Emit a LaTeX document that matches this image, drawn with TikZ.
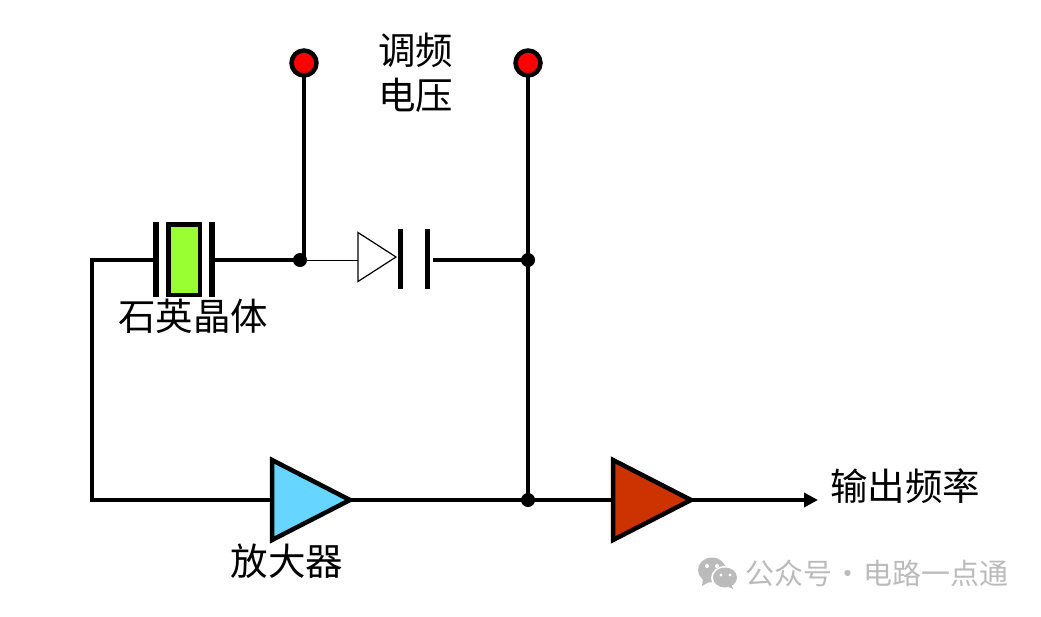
\documentclass[tikz,border=0pt]{standalone}
\usepackage{xcolor}
\usepackage{fontspec}
\newfontfamily\cjk{Noto Sans CJK SC}
\usetikzlibrary{shapes.geometric,arrows.meta,positioning}
\definecolor{xtalgreen}{HTML}{99FF33}
\definecolor{ampblue}{HTML}{66D5FF}
\definecolor{ampred}{HTML}{CC3300}
\definecolor{markgray}{HTML}{BBBBBB}
\tikzset{
    wire/.style={line width=4.5pt},
    dotnode/.style={circle,fill=black,minimum size=14pt,inner sep=0pt,outer sep=0pt},
    terminal/.style={circle,draw=black,line width=4.5pt,fill=red,minimum size=25pt,inner sep=0pt,outer sep=0pt},
    plate/.style={rectangle,fill=black,minimum width=#1,inner sep=0pt,outer sep=0pt},
    ampnode/.style={isosceles triangle,isosceles triangle stretches,draw=black,line width=4.5pt,
        minimum width=80pt,minimum height=78pt,inner sep=0pt,outer sep=0pt,anchor=lower side},
    label/.style={font=\cjk\fontsize{37.5}{45}\selectfont,inner sep=0pt,align=center,text=black}
}
\begin{document}
\begin{tikzpicture}[x=1pt,y=-1pt]
    \useasboundingbox (0,0) rectangle (1041,616);

    \node [terminal] (termL) at (304,63) {};
    \node [terminal] (termR) at (528,63) {};
    \node [dotnode] (dotA) at (300,260) {};
    \node [dotnode] (dotB) at (528,260) {};
    \node [dotnode] (dotC) at (528,500) {};
    \coordinate (cornerT) at (92,260);
    \coordinate (cornerB) at (92,500);
    \coordinate (wireA) at (304,260);
    \coordinate (outEnd) at (818,500);

    % crystal
    \node [plate=6pt,minimum height=75pt] (xtalL) at (156,259.5) {};
    \node [plate=6pt,minimum height=75pt] (xtalR) at (212,259.5) {};
    \node [rectangle,draw=black,line width=4.5pt,fill=xtalgreen,minimum width=31.5pt,minimum height=70.5pt,
        inner sep=0pt,outer sep=0pt] (xtal) at (184,259.5) {};

    % varactor
    \node [isosceles triangle,isosceles triangle stretches,draw=black,line width=1.2pt,fill=white,
        minimum width=49pt,minimum height=38pt,inner sep=0pt,outer sep=0pt,anchor=lower side] (diode) at (358,257) {};
    \node [plate=5pt,minimum height=60pt] (capL) at (400,259) {};
    \node [plate=5pt,minimum height=60pt] (capR) at (427,259) {};
    \coordinate (capWire) at (433,260);

    \node [ampnode,fill=ampblue] (ampA) at (272,500) {};
    \node [ampnode,fill=ampred] (ampB) at (613,500) {};

    \draw [wire] (termL) -- (wireA);
    \draw [wire] (termR) -- (dotC.center);
    \draw [wire,line cap=rect] (xtalL.west |- cornerT) -- (cornerT) -- (cornerB) -- (ampA.lower side);
    \draw [wire] (xtalR.east |- cornerT) -- (dotA.center);
    \draw [line width=1pt] (dotA.center) -- (diode.lower side |- dotA.center);
    \draw [wire] (capWire) -- (dotB.center);
    \draw [wire] (ampA.apex) -- (ampB.lower side);
    \draw [wire,-{Triangle[length=14pt,width=14pt]}] (ampB.apex) -- (outEnd);

    \node [label] (tuneText) at (415.5,73) {调频\\电压};
    \node [label] (xtalText) at (193,316) {石英晶体};
    \node [label] (ampText) at (287,561.5) {放大器};
    \node [label] (outText) at (905,486) {输出频率};
    \node [font=\cjk\fontsize{29}{32}\selectfont,text=markgray,inner sep=0pt,anchor=west] (markText) at (745,573) {\spaceskip=1pt\relax 公众号 · 电路一点通};

    % watermark icon
    \fill [markgray] (712,570) ellipse (14pt and 12.5pt);
    \fill [markgray] (703,578) -- (702,586) -- (711,581) -- cycle;
    \fill [white] (725,578) ellipse (14pt and 12pt);
    \fill [markgray] (725,577.5) ellipse (12pt and 10pt);
    \fill [markgray] (731,584) -- (733,589) -- (726,586) -- cycle;
    \fill [white] (707,566) circle (2pt) (717,566) circle (2pt) (721,575) circle (1.7pt) (730,575) circle (1.7pt);
\end{tikzpicture}
\end{document}
